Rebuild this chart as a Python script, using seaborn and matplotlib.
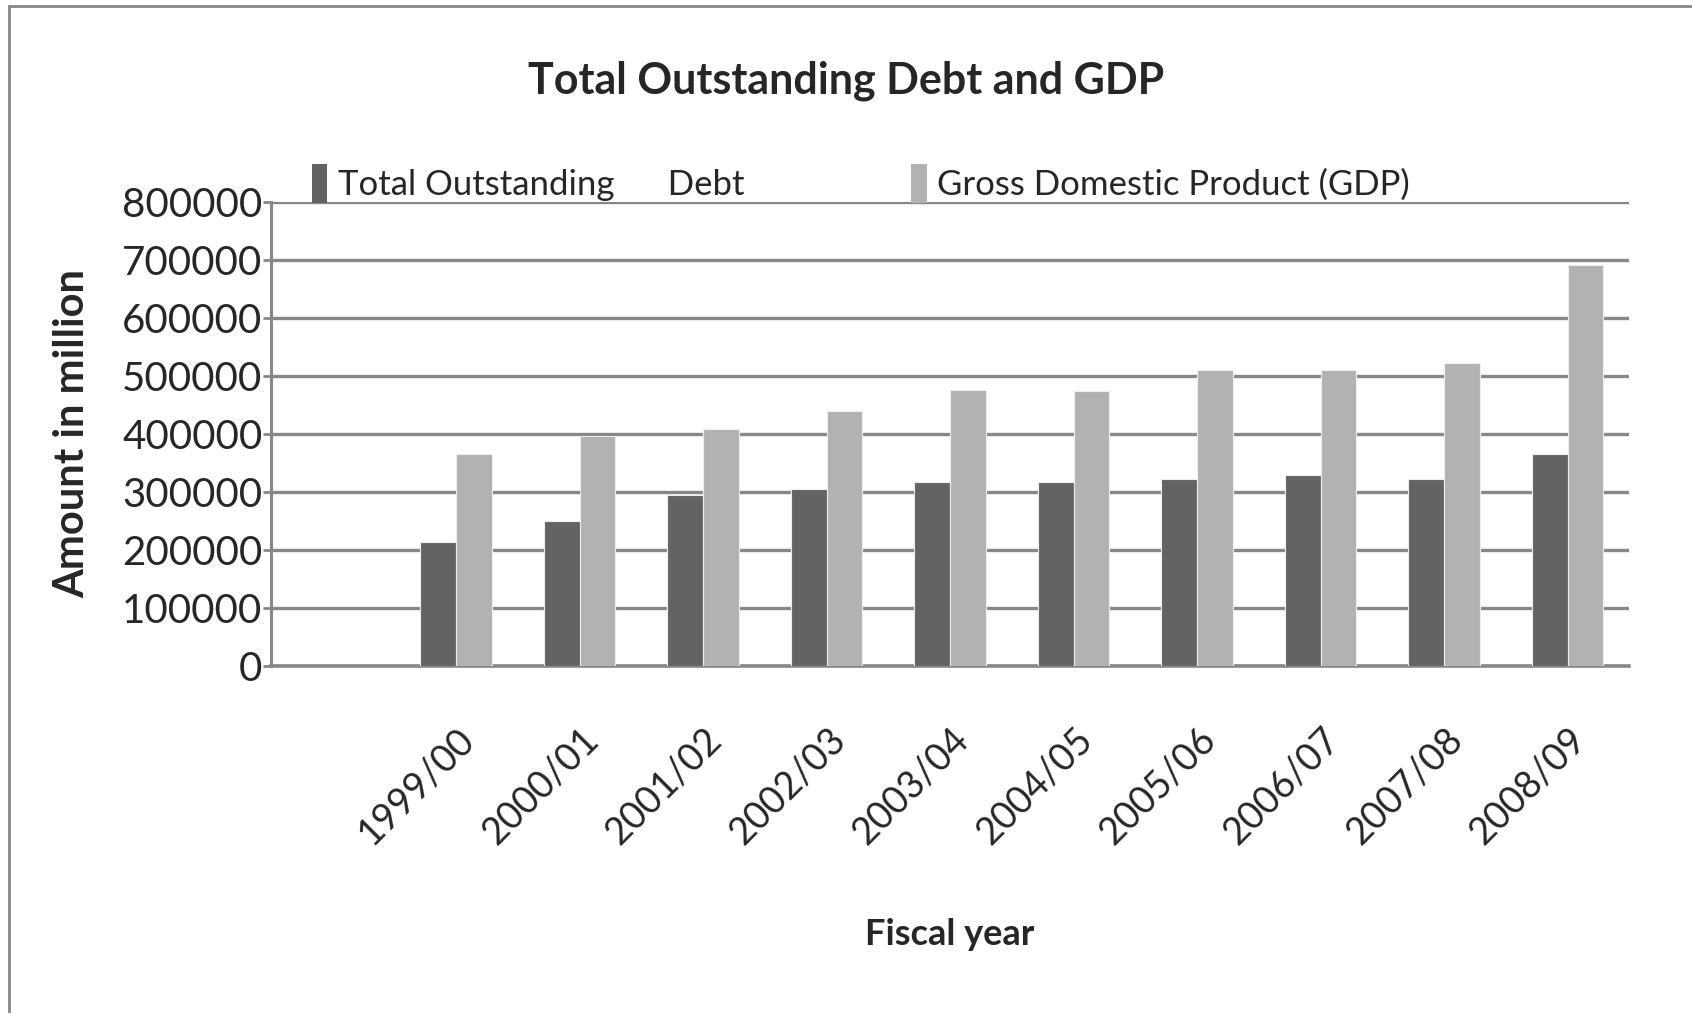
import matplotlib
matplotlib.use("Agg")
import matplotlib.pyplot as plt
from matplotlib.lines import Line2D
import seaborn as sns
import pandas as pd

years = ["1999/00", "2000/01", "2001/02", "2002/03", "2003/04",
         "2004/05", "2005/06", "2006/07", "2007/08", "2008/09"]
debt = [213000, 250000, 294000, 304500, 317000, 316000, 322000, 328000, 322000, 364000]
gdp = [365000, 396000, 408000, 439000, 475000, 473000, 509000, 509000, 521000, 690000]
series_names = ["Total Outstanding      Debt", "Gross Domestic Product (GDP)"]
yticks = [0, 100000, 200000, 300000, 400000, 500000, 600000, 700000, 800000]

df = pd.DataFrame({
    "year": years * 2,
    "value": debt + gdp,
    "series": [series_names[0]] * len(years) + [series_names[1]] * len(years),
})

sns.set_theme(style="white")
fam = ["Lato", "DejaVu Sans"]
plt.rcParams["font.family"] = fam

fig = plt.figure(figsize=(16.92, 10.13), dpi=100)
ax = fig.add_axes([0.160, 0.343, 0.803, 0.458])

order = [""] + years
sns.barplot(data=df, x="year", y="value", hue="series", order=order,
            hue_order=series_names, palette=["#636363", "#b2b2b2"],
            width=0.58, edgecolor="#eeeeee", linewidth=0.8, ax=ax,
            legend=True, zorder=3)

ax.set_ylim(0, 800000)
ax.set_xlim(-0.5, len(order) - 0.5)
ax.set_yticks(yticks)
ax.set_yticklabels([str(v) for v in yticks], fontsize=29)
ax.yaxis.grid(True, color="#878787", linewidth=2.4, zorder=0)
ax.set_axisbelow(True)
for s in ["top", "right"]:
    ax.spines[s].set_visible(False)
ax.spines["left"].set_color("#878787")
ax.spines["left"].set_linewidth(2.2)
ax.spines["bottom"].set_color("#878787")
ax.spines["bottom"].set_linewidth(2.6)
ax.tick_params(axis="y", length=6, width=2, color="#878787", pad=0, left=True)
ax.tick_params(axis="x", length=0, pad=40)

ax.set_xticks(range(len(order)))
ax.set_xticklabels(order, fontsize=27, rotation=45, ha="right",
                   rotation_mode="anchor")

ax.set_xlabel("Fiscal year", fontsize=26, fontweight="bold", labelpad=48)
ax.set_ylabel("Amount in million", fontsize=30, fontweight="bold", labelpad=22)

leg = ax.legend(loc="lower left", bbox_to_anchor=(0.02, 0.968), ncol=2,
                frameon=False, fontsize=25, handlelength=0.45, handleheight=1.35,
                handletextpad=0.3, columnspacing=4.8, borderaxespad=0)
for h in leg.legend_handles:
    h.set_edgecolor("none")

fig.text(0.5, 0.92, "Total Outstanding Debt and GDP", ha="center", va="center",
         fontsize=31, fontweight="bold")

fig.add_artist(Line2D([9 / 1692, 1.0], [1 - 6 / 1013, 1 - 6 / 1013],
                      transform=fig.transFigure, color="#888888", linewidth=2))
fig.add_artist(Line2D([9 / 1692, 9 / 1692], [0, 1 - 6 / 1013],
                      transform=fig.transFigure, color="#888888", linewidth=2))

fig.savefig("out.png", dpi=100, facecolor="white")
